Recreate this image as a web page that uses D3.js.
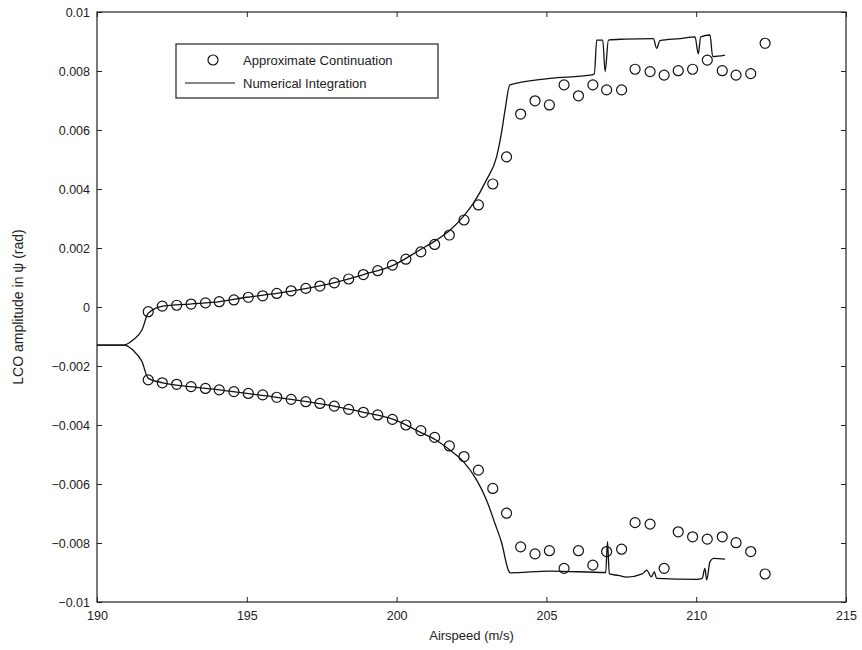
<!DOCTYPE html>
<html>
<head>
<meta charset="utf-8">
<script src="https://cdn.jsdelivr.net/npm/d3@7"></script>
<style>
  body { margin: 0; background: #fff; }
  text { font-family: "Liberation Sans", Arial, sans-serif; fill: #222; }
  .axis path { display: none; }
  .axis line { stroke: #222; }
</style>
</head>
<body>
<div id="chart"></div>
<script>
// data
var xTicks = [190, 195, 200, 205, 210, 215];
var yTicks = [-0.01, -0.008, -0.006, -0.004, -0.002, 0, 0.002, 0.004, 0.006, 0.008, 0.01];
var yTickLabels = ["\u22120.01", "\u22120.008", "\u22120.006", "\u22120.004", "\u22120.002", "0",
                   "0.002", "0.004", "0.006", "0.008", "0.01"];

// approximate continuation, upper branch
var contUpperX = [191.71, 192.18, 192.66, 193.14, 193.62, 194.08, 194.57, 195.05, 195.53, 196.00,
                  196.48, 196.97, 197.44, 197.92, 198.40, 198.89, 199.37, 199.86, 200.31, 200.81,
                  201.27, 201.76, 202.25, 202.73, 203.21, 203.67,
                  204.14, 204.62, 205.10, 205.59, 206.07, 206.55, 207.01, 207.51, 207.96, 208.46,
                  208.93, 209.40, 209.88, 210.37, 210.87, 211.33, 211.82, 212.30];
var contUpperY = [-0.00016, 0.00003, 0.00006, 0.00010, 0.00014, 0.00018, 0.00024, 0.00033, 0.00038, 0.00046,
                  0.00055, 0.00063, 0.00071, 0.00082, 0.00095, 0.00110, 0.00123, 0.00142, 0.00162, 0.00187,
                  0.00212, 0.00244, 0.00295, 0.00346, 0.00417, 0.00509,
                  0.00654, 0.00699, 0.00685, 0.00753, 0.00716, 0.00753, 0.00736, 0.00736, 0.00806, 0.00798,
                  0.00786, 0.00801, 0.00806, 0.00837, 0.00801, 0.00786, 0.00791, 0.00894];

// approximate continuation, lower branch
var contLowerX = [191.71, 192.18, 192.66, 193.14, 193.62, 194.08, 194.57, 195.05, 195.53, 196.00,
                  196.48, 196.97, 197.44, 197.92, 198.40, 198.89, 199.37, 199.86, 200.31, 200.81,
                  201.27, 201.76, 202.25, 202.73, 203.21, 203.67,
                  204.14, 204.62, 205.10, 205.59, 206.07, 206.55, 207.01, 207.51, 207.96, 208.46,
                  208.93, 209.40, 209.88, 210.37, 210.87, 211.33, 211.82, 212.30];
var contLowerY = [-0.00247, -0.00257, -0.00262, -0.00270, -0.00276, -0.00281, -0.00287, -0.00293, -0.00298, -0.00306,
                  -0.00313, -0.00321, -0.00327, -0.00336, -0.00347, -0.00357, -0.00366, -0.00381, -0.00400, -0.00419,
                  -0.00442, -0.00471, -0.00507, -0.00553, -0.00615, -0.00699,
                  -0.00813, -0.00837, -0.00826, -0.00886, -0.00826, -0.00875, -0.00829, -0.00821, -0.00731, -0.00736,
                  -0.00886, -0.00762, -0.00779, -0.00787, -0.00779, -0.00799, -0.00829, -0.00905];

// numerical integration, upper branch
var numUpperX = [190, 190.9, 191.2, 191.5, 191.71, 192.2, 193.1, 194.1, 195.0, 196.0, 197.0, 197.9,
                 198.9, 199.9, 200.8, 201.3, 201.8, 202.23, 202.56, 203.0, 203.34, 203.5, 203.62, 203.78,
                 205.12, 206.46, 206.6, 206.68, 206.88, 206.96, 207.07, 207.6, 208.57, 208.68, 208.79,
                 209.46, 209.96, 210.07, 210.15, 210.46, 210.55, 210.96];
var numUpperY = [-0.00129, -0.00129, -0.00112, -0.00078, -0.00021, 0.00003, 0.00010, 0.00018, 0.00033, 0.00046, 0.00063, 0.00082,
                 0.00110, 0.00142, 0.00195, 0.00225, 0.00262, 0.00307, 0.00351, 0.00431, 0.00510, 0.00590, 0.00668, 0.00753,
                 0.00775, 0.00786, 0.00790, 0.00905, 0.00905, 0.00798, 0.00905, 0.00908, 0.00910, 0.00877, 0.00903,
                 0.00910, 0.00916, 0.00858, 0.00916, 0.00922, 0.00849, 0.00854];

// numerical integration, lower branch
var numLowerX = [190, 190.9, 191.2, 191.5, 191.71, 192.2, 193.1, 194.1, 195.0, 196.0, 197.0, 197.9,
                 198.9, 199.9, 200.8, 201.3, 201.78, 202.23, 202.67, 203.0, 203.28, 203.51, 203.73, 203.79,
                 205.12, 206.98, 207.04, 207.1, 207.4, 207.68, 208.2, 208.35, 208.5, 208.6, 208.68,
                 210.01, 210.2, 210.29, 210.35, 210.46, 210.58, 210.96];
var numLowerY = [-0.00129, -0.00129, -0.00146, -0.00185, -0.00242, -0.00257, -0.00270, -0.00281, -0.00293, -0.00306, -0.00321, -0.00336,
                 -0.00357, -0.00381, -0.00425, -0.00450, -0.00485, -0.00524, -0.00586, -0.00654, -0.00733, -0.00801, -0.00892, -0.00901,
                 -0.00895, -0.00900, -0.00795, -0.00905, -0.00910, -0.00916, -0.00905, -0.00892, -0.00915, -0.00898, -0.00920,
                 -0.00923, -0.00920, -0.00886, -0.00925, -0.00863, -0.00852, -0.00855];

var svgWidth = 862;
var svgHeight = 650;
var margin = {top: 12, right: 16, bottom: 48, left: 97};
var width = svgWidth - margin.left - margin.right;
var height = svgHeight - margin.top - margin.bottom;

var svg = d3.select("#chart")
  .append("svg")
  .attr("width", svgWidth)
  .attr("height", svgHeight);

var chart = svg.append("g")
  .attr("transform", "translate(" + margin.left + "," + margin.top + ")");

var x = d3.scaleLinear().domain([190, 215]).range([0, width]);
var y = d3.scaleLinear().domain([-0.01, 0.01]).range([height, 0]);

// axes, ticks pointing inward like matlab
chart.append("g")
  .attr("class", "axis")
  .attr("transform", "translate(0," + height + ")")
  .call(d3.axisBottom(x).tickValues(xTicks).tickSizeInner(-5).tickSizeOuter(0).tickPadding(9).tickFormat(d3.format("d")))
  .selectAll("text").style("font-size", "12.5px");

chart.append("g")
  .attr("class", "axis")
  .call(d3.axisTop(x).tickValues(xTicks).tickSizeInner(-5).tickSizeOuter(0).tickFormat(""));

chart.append("g")
  .attr("class", "axis")
  .call(d3.axisLeft(y).tickValues(yTicks).tickSizeInner(-5).tickSizeOuter(0).tickPadding(7)
    .tickFormat(function(d, i) { return yTickLabels[i]; }))
  .selectAll("text").style("font-size", "12.5px");

chart.append("g")
  .attr("class", "axis")
  .attr("transform", "translate(" + width + ",0)")
  .call(d3.axisRight(y).tickValues(yTicks).tickSizeInner(-5).tickSizeOuter(0).tickFormat(""));

// frame
chart.append("rect")
  .attr("width", width)
  .attr("height", height)
  .attr("fill", "none")
  .attr("stroke", "#222")
  .attr("stroke-width", 1.2);

var line = d3.line()
  .curve(d3.curveMonotoneX)
  .x(function(d) { return x(d[0]); })
  .y(function(d) { return y(d[1]); });

chart.append("path")
  .datum(d3.zip(numUpperX, numUpperY))
  .attr("d", line)
  .attr("fill", "none")
  .attr("stroke", "#111")
  .attr("stroke-width", 1.3);

chart.append("path")
  .datum(d3.zip(numLowerX, numLowerY))
  .attr("d", line)
  .attr("fill", "none")
  .attr("stroke", "#111")
  .attr("stroke-width", 1.3);

var circles = d3.zip(contUpperX, contUpperY).concat(d3.zip(contLowerX, contLowerY));

chart.selectAll("circle.cont")
  .data(circles)
  .enter()
  .append("circle")
  .attr("class", "cont")
  .attr("cx", function(d) { return x(d[0]); })
  .attr("cy", function(d) { return y(d[1]); })
  .attr("r", 5)
  .attr("fill", "none")
  .attr("stroke", "#111")
  .attr("stroke-width", 1.2);

// legend
var legend = svg.append("g").attr("transform", "translate(176,44)");
legend.append("rect")
  .attr("width", 262)
  .attr("height", 54)
  .attr("fill", "#fff")
  .attr("stroke", "#222")
  .attr("stroke-width", 1.2);
legend.append("circle")
  .attr("cx", 37).attr("cy", 16).attr("r", 5)
  .attr("fill", "none").attr("stroke", "#111").attr("stroke-width", 1.2);
legend.append("line")
  .attr("x1", 9).attr("x2", 59).attr("y1", 39).attr("y2", 39)
  .attr("stroke", "#111").attr("stroke-width", 1.2);
legend.append("text")
  .attr("x", 67).attr("y", 21)
  .style("font-size", "13px")
  .text("Approximate Continuation");
legend.append("text")
  .attr("x", 67).attr("y", 44)
  .style("font-size", "13px")
  .text("Numerical Integration");

// axis labels
svg.append("text")
  .attr("x", margin.left + width / 2)
  .attr("y", 640)
  .attr("text-anchor", "middle")
  .style("font-size", "13px")
  .text("Airspeed (m/s)");

svg.append("text")
  .attr("transform", "translate(23," + (margin.top + height / 2) + ") rotate(-90)")
  .attr("text-anchor", "middle")
  .style("font-size", "14px")
  .text("LCO amplitude in \u03c8 (rad)");
</script>
</body>
</html>
